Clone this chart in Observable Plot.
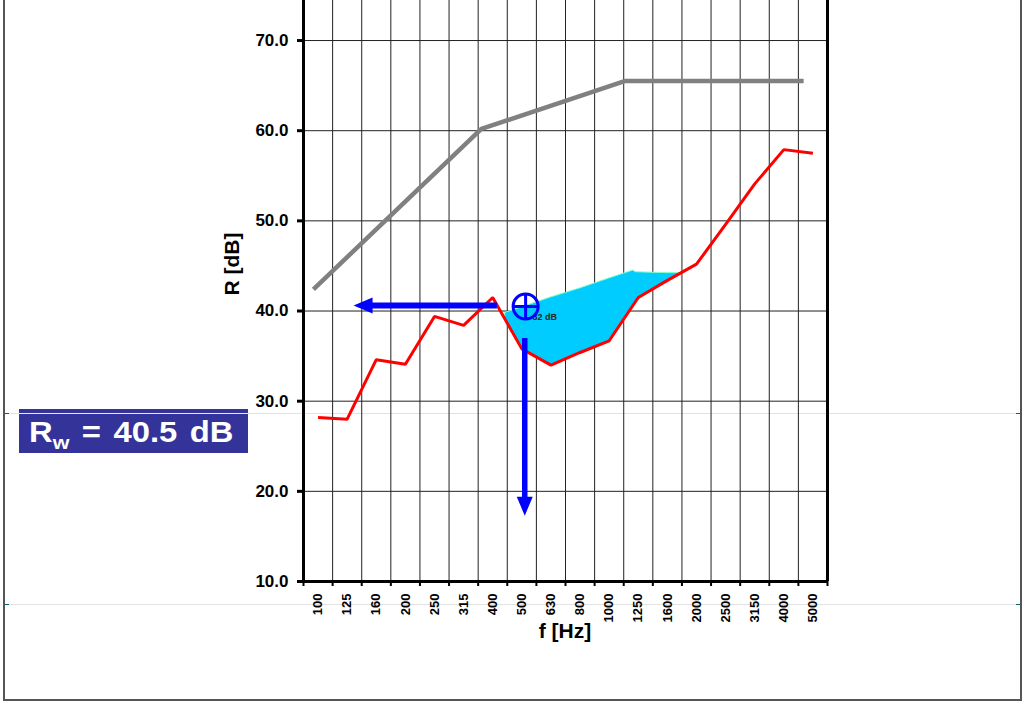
<!DOCTYPE html>
<html>
<head>
<meta charset="utf-8">
<script src="https://cdn.jsdelivr.net/npm/d3@7"></script>
<script src="https://cdn.jsdelivr.net/npm/@observablehq/plot@0.6"></script>
<style>
  html, body { margin: 0; padding: 0; background: #fff; }
  #wrap { position: relative; width: 1025px; height: 702px; overflow: hidden; font-family: "Liberation Sans", Arial, sans-serif; }
  .abs { position: absolute; }
  #chart { position: absolute; left: 0; top: 0; }
</style>
</head>
<body>
<div id="wrap">
  <div class="abs" style="left:3px;top:-10px;width:1015px;height:707px;border:2px solid #555;"></div>
  <div class="abs" style="left:5px;top:413px;width:1015px;height:1px;background:#e2e2e2;"></div>
  <div class="abs" style="left:5px;top:604px;width:1015px;height:1px;background:#e2e2e2;"></div>
  <div class="abs" style="left:5px;top:413px;width:4px;height:1px;background:#066;"></div>
  <div class="abs" style="left:5px;top:604px;width:4px;height:1px;background:#066;"></div>
  <div class="abs" style="left:1016px;top:413px;width:4px;height:1px;background:#066;"></div>
  <div class="abs" style="left:1016px;top:604px;width:4px;height:1px;background:#066;"></div>
  <div id="chart"></div>
  <div class="abs" style="left:19px;top:409px;width:229px;height:44px;background:#333399;"></div>
  <div class="abs" style="left:19px;top:413px;width:229px;height:1px;background:#e8e8f0;"></div>
  <div id="rw" class="abs" style="left:29px;top:414px;color:#fff;font-weight:bold;font-size:29px;line-height:36px;white-space:nowrap;word-spacing:3px;transform:scaleX(1.13);transform-origin:left top;">R<sub style="font-size:19px;vertical-align:-7px;line-height:0;">w</sub> = 40.5 dB</div>
  <div id="ylab" class="abs" style="left:232px;top:264px;font-weight:bold;font-size:21px;white-space:nowrap;transform:translate(-50%,-50%) rotate(-90deg);">R [dB]</div>
  <div id="xlab" class="abs" style="left:565px;top:631px;font-weight:bold;font-size:21px;white-space:nowrap;transform:translate(-50%,-50%);">f [Hz]</div>
</div>
<script>
// Frequency bands (1/3 octave)
const freqs = ["100","125","160","200","250","315","400","500","630","800","1000","1250","1600","2000","2500","3150","4000","5000"];
// Measured sound reduction index R [dB]
const measured = [28.2, 28.0, 34.6, 34.1, 39.4, 38.4, 41.5, 35.8, 34.0, 35.4, 36.7, 41.5, 43.4, 45.2, 49.6, 54.1, 57.9, 57.5];
// Shifted reference curve (band-index positions and values)
const refPos = [0.34, 6.11, 11.03, 17.18];
const refVal = [42.4, 60.2, 65.5, 65.5];
// Shaded unfavourable-deviation region
const shadeX = [6.94, 7.5, 8.5, 9.5, 10.5, 11.34, 11.4, 12.5, 12.95];
const shadeTop = [39.8, 40.4, 41.5, 42.5, 43.6, 44.5, 44.3, 44.2, 44.2];
const shadeBottom = [38.9, 35.8, 34.0, 35.4, 36.7, 40.7, 41.0, 43.4, 44.2];
// Arrows and marker
const arrowHX = [6.66, 1.72];   // shaft start, tip
const arrowHY = 40.6;
const arrowVX = 7.6;
const arrowVY = [36.95, 17.3];  // shaft start, tip
const markerX = 7.63, markerY = 40.5, markerLabel = "32 dB";
const markerLabelPos = [7.87, 39.3];
// Axis ticks
const yTicks = [10, 20, 30, 40, 50, 60, 70];
const yDomain = [10, 74.44];

const bounds = d3.range(0, freqs.length + 1);
const lineData = freqs.map((f, i) => ({x: i + 0.5, y: measured[i]}));
const refData = refPos.map((p, i) => ({x: p, y: refVal[i]}));
const shadeData = shadeX.map((x, i) => ({x, top: shadeTop[i], bottom: shadeBottom[i]}));

const headLen = 19, headHalf = 8;
const arrowHead = {
  draw(ctx) {
    ctx.moveTo(0, 0);
    ctx.lineTo(headHalf, headLen);
    ctx.lineTo(-headHalf, headLen);
    ctx.closePath();
  }
};
const circlePlus = {
  draw(ctx) {
    const r = 12.5;
    ctx.moveTo(r, 0);
    ctx.arc(0, 0, r, 0, 2 * Math.PI);
    ctx.moveTo(-r, 0); ctx.lineTo(r, 0);
    ctx.moveTo(0, -r); ctx.lineTo(0, r);
  }
};

const chart = Plot.plot({
  width: 1025,
  height: 702,
  marginLeft: 303,
  marginRight: 198,
  marginTop: 0,
  marginBottom: 121,
  style: {background: "transparent", fontFamily: "Liberation Sans, Arial, sans-serif", fontWeight: "bold", color: "#000"},
  x: {type: "linear", domain: [0, freqs.length], axis: null},
  y: {domain: yDomain, axis: null},
  marks: [
    // grid
    Plot.ruleX(bounds.slice(1, -1), {y1: yDomain[0], y2: yDomain[1], stroke: "#222", strokeWidth: 1}),
    Plot.ruleY(yTicks.slice(1), {x1: 0, x2: freqs.length, stroke: "#222", strokeWidth: 1}),
    // shaded area
    Plot.area(shadeData, {x1: "x", y1: "bottom", y2: "top", fill: "#00ccff", stroke: "#7dffc8", strokeWidth: 1, curve: "linear"}),
    // measured curve
    Plot.line(lineData, {x: "x", y: "y", stroke: "#ff0000", strokeWidth: 3, strokeLinejoin: "miter", strokeLinecap: "butt"}),
    // reference curve
    Plot.line(refData, {x: "x", y: "y", stroke: "#808080", strokeWidth: 4.5, strokeLinejoin: "miter", strokeLinecap: "butt"}),
    // axes frame
    Plot.ruleX([0, freqs.length], {y1: yDomain[0], y2: yDomain[1], stroke: "#000", strokeWidth: 3}),
    Plot.ruleY([yDomain[0]], {x1: 0, x2: freqs.length, stroke: "#000", strokeWidth: 3}),
    Plot.axisY(yTicks, {tickSize: 6, tickPadding: 9, tickFormat: d => d.toFixed(1), fontSize: 17, fontWeight: "bold", strokeWidth: 3, label: null}),
    Plot.axisX(bounds, {tickSize: 5, tickFormat: () => "", strokeWidth: 2, label: null}),
    Plot.text(freqs, {x: (d, i) => i + 0.5, frameAnchor: "bottom", dy: 12, rotate: -90, textAnchor: "end", lineAnchor: "middle", fontSize: 13, fontWeight: "bold", fill: "#000"}),
    // marker label
    Plot.text([markerLabel], {x: markerLabelPos[0], y: markerLabelPos[1], textAnchor: "start", fontSize: 9, fontWeight: "bold", fill: "#222"}),
    // arrows
    Plot.ruleY([arrowHY], {x1: arrowHX[1] + 0.5, x2: arrowHX[0], stroke: "#0000ff", strokeWidth: 6}),
    Plot.dot([arrowHY], {x: arrowHX[1], y: d => d, symbol: arrowHead, rotate: -90, fill: "#0000ff", stroke: "none", r: 8}),
    Plot.ruleX([arrowVX], {y1: arrowVY[1] + 1.9, y2: arrowVY[0], stroke: "#0000ff", strokeWidth: 5.5}),
    Plot.dot([arrowVX], {x: d => d, y: arrowVY[1], symbol: arrowHead, rotate: 180, fill: "#0000ff", stroke: "none", r: 8}),
    // circle-plus marker
    Plot.dot([markerY], {x: markerX, y: d => d, symbol: circlePlus, fill: "none", stroke: "#0000ff", strokeWidth: 3, r: 12})
  ]
});
document.getElementById("chart").appendChild(chart);
</script>
</body>
</html>
